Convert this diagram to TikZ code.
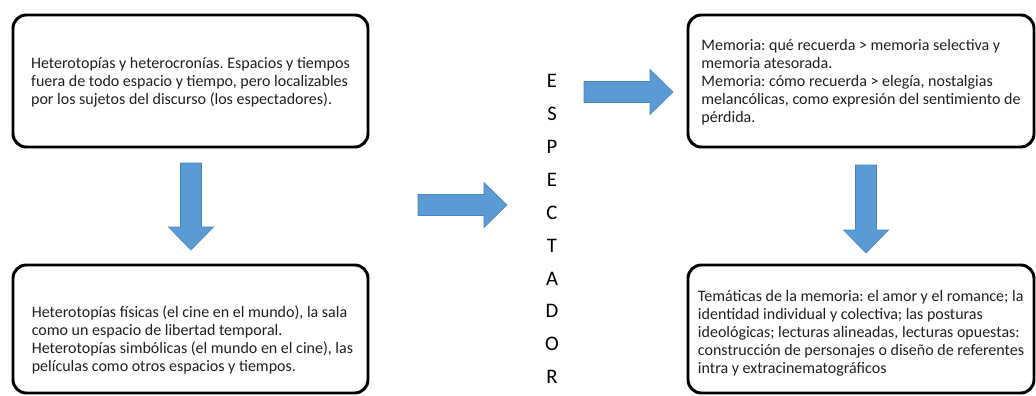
\documentclass[tikz,border=0pt]{standalone}
\usepackage{fontspec}
\setmainfont{Carlito}
\usepackage{tikz}
\usetikzlibrary{calc}
\definecolor{arrowblue}{HTML}{5B9BD5}
\definecolor{arrowedge}{HTML}{4A84BA}
\newcommand{\boxfont}{\fontsize{12}{13.5}\selectfont\frenchspacing}
\newcommand{\fatarrow}[3]{
	\begin{scope}[shift={(#1)},rotate=#2]
	\filldraw[fill=arrowblue, draw=arrowedge, line width=0.4pt]
		(0,-10.5) -- (#3-23,-10.5) -- (#3-23,-22.5) -- (#3,0)
		-- (#3-23,22.5) -- (#3-23,10.5) -- (0,10.5) -- cycle;
	\end{scope}
}

\begin{document}
\begin{tikzpicture}[x=0.75pt,y=0.75pt,
	box/.style={draw, line width=2.2pt, rounded corners=10pt, inner sep=0pt},
	leftbox/.style={box, minimum width=266.25pt},
	rightbox/.style={box, minimum width=259.5pt},
	txt/.style={align=left, inner sep=0pt, font=\boxfont, text=black!88}]
	\useasboundingbox (0,0) rectangle (1036,-396);

	\node [leftbox, minimum height=99pt] (H) at (190.5,-81) {};
	\node [leftbox, minimum height=96pt] (P) at (190.5,-329) {};
	\node [rightbox, minimum height=99pt] (M) at (861,-81) {};
	\node [rightbox, minimum height=96pt] (T) at (861,-329) {};

	\node [txt] (Htext) at ($(H.center)+(0,-1)$) {Heterotopías y heterocronías. Espacios y tiempos\\fuera de todo espacio y tiempo, pero localizables\\por los sujetos del discurso (los espectadores).};
	\node [txt] (Ptext) at ($(P.center)+(2,-11)$) {Heterotopías físicas (el cine en el mundo), la sala\\como un espacio de libertad temporal.\\Heterotopías simbólicas (el mundo en el cine), las\\películas como otros espacios y tiempos.};
	\node [txt] (Mtext) at ($(M.center)+(0,-1)$) {Memoria: qué recuerda > memoria selectiva y\\memoria atesorada.\\Memoria: cómo recuerda > elegía, nostalgias\\melancólicas, como expresión del sentimiento de\\pérdida.};
	\node [txt] (Ttext) at ($(T.center)+(0,-4)$) {Temáticas de la memoria: el amor y el romance; la\\identidad individual y colectiva; las posturas\\ideológicas; lecturas alineadas, lecturas opuestas:\\construcción de personajes o diseño de referentes\\intra y extracinematográficos};

	\node [align=center, inner sep=0pt, font=\fontsize{15.5}{24.7}\selectfont] (V) at (552,-229) {E\\S\\P\\E\\C\\T\\A\\D\\O\\R};

	\coordinate (HP) at (191,-163);
	\coordinate (MT) at (866,-165);
	\coordinate (PV) at (418,-205);
	\coordinate (VM) at (584,-92);

	\fatarrow{HP}{-90}{87}
	\fatarrow{MT}{-90}{88}
	\fatarrow{PV}{0}{89}
	\fatarrow{VM}{0}{89}

\end{tikzpicture}
\end{document}
